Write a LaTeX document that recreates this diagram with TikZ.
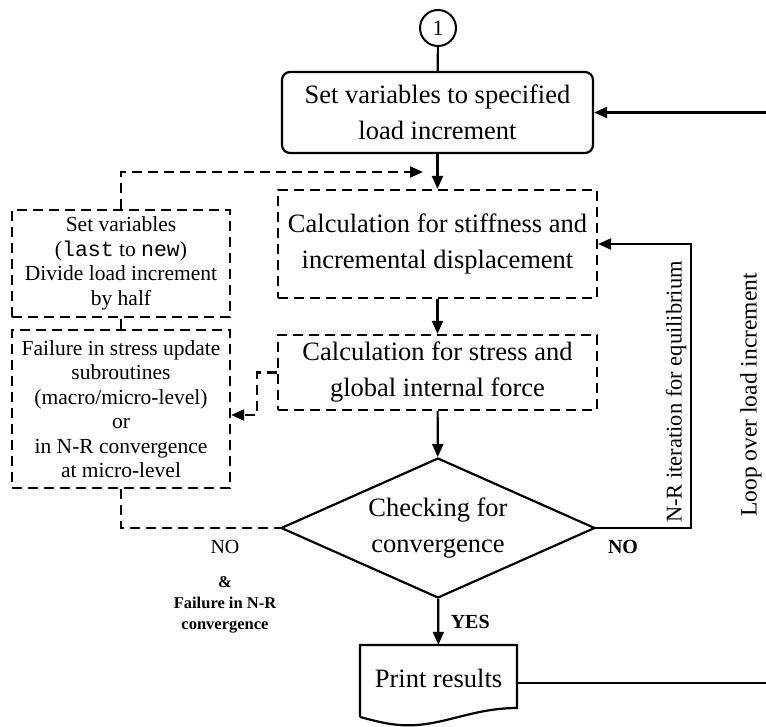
\documentclass[tikz,border=0pt]{standalone}
\usepackage{fontspec}
\setmainfont{Liberation Serif}
\setmonofont{Liberation Mono}
\usetikzlibrary{arrows.meta,shapes.geometric,calc}
\tikzset{flow/.style={-{Triangle[length=13pt,width=11pt]},line width=2.2pt}}
\tikzset{dashline/.style={line width=2.2pt,dash pattern=on 10pt off 6pt}}
\tikzset{dashflow/.style={flow,dash pattern=on 10pt off 6pt}}
\tikzset{bigbox/.style={draw,dashline,minimum width=319pt,align=center,inner sep=0pt,font=\fontsize{26.5}{36}\selectfont}}
\tikzset{sidebox/.style={draw,dashline,minimum width=218pt,align=center,inner sep=0pt,font=\fontsize{21.5}{24.5}\selectfont}}
\tikzset{tag/.style={font=\fontsize{20}{20}\selectfont}}
\tikzset{boldtag/.style={font=\bfseries\fontsize{20}{20}\selectfont}}

\begin{document}
\begin{tikzpicture}[x=1pt,y=-1pt]
    \useasboundingbox (0,0) rectangle (766,726);
    \node [draw,circle,line width=2pt,minimum size=36pt,inner sep=0pt,font=\fontsize{22}{22}\selectfont] (start) at (438,28) {1};
    \node [draw,rounded corners=8pt,line width=2.2pt,minimum width=311pt,minimum height=81pt,align=center,inner sep=0pt,font=\fontsize{26.5}{36}\selectfont] (setinc) at (437.5,112.5) {Set variables to specified\\load increment};
    \node [bigbox,minimum height=108pt] (stiff) at (437.5,244) {Calculation for stiffness and\\incremental displacement};
    \node [bigbox,minimum height=75pt] (stress) at (437.5,372.5) {Calculation for stress and\\global internal force};
    \node [draw,diamond,aspect=2.24,line width=2.2pt,minimum width=314pt,minimum height=140pt,inner sep=0pt,align=center,font=\fontsize{26.5}{36}\selectfont] (check) at (438,528) {Checking for\\convergence};
    \node [minimum width=157pt,minimum height=66pt,inner sep=0pt,font=\fontsize{26.5}{36}\selectfont] (print) at (438.5,678) {Print results};
    \draw [line width=2.2pt] (360,717) -- (360,645) -- (517,645) -- (517,708) .. controls (470,708) and (440,728) .. (400,725) .. controls (385,724) and (372,720) .. (360,717);
    % left side: recovery after failure
    \node [sidebox,minimum height=107pt] (halve) at (121,263.5) {Set variables\\(\texttt{last} to \texttt{new})\\Divide load increment\\by half};
    \node [sidebox,minimum height=158pt] (fail) at (121,409) {Failure in stress update\\subroutines\\(macro/micro-level)\\or\\in N-R convergence\\at micro-level};
    % main column
    \draw [line width=2.2pt] (start) -- (setinc);
    \draw [flow] (setinc) -- (stiff);
    \draw [flow] (stiff) -- (stress);
    \draw [flow] (stress) -- (check);
    \draw [flow] (check) -- node [boldtag,right=8pt] {YES} (print);
    % N-R loop
    \draw [flow] (check.east) -- ++(95,0) |- (stiff.east);
    \node [boldtag] (nrno) at (623,547) {NO};
    \node [rotate=90,font=\fontsize{22.5}{22.5}\selectfont] (nrtag) at (676,392) {N-R iteration for equilibrium};
    % load increment loop
    \coordinate (loopin) at (766,112.5);
    \coordinate (loopout) at (766,683);
    \draw [flow] (loopin) -- (setinc.east);
    \draw [line width=2.2pt] (print.east |- loopout) -- (loopout);
    \node [rotate=90,font=\fontsize{23.5}{23.5}\selectfont] (looptag) at (751,395) {Loop over load increment};
    % failure branch
    \coordinate (backin) at (423,172);
    \draw [dashline] (fail.south) |- (check.west);
    \draw [dashline] (fail) -- (halve);
    \draw [dashflow] (halve.north) |- (backin);
    \draw [dashflow] (stress.west) -- ++(-20,0) |- ([yshift=-6pt]fail.east);
    \node [tag] (failno) at (225,547) {NO};
    \node [align=center,font=\bfseries\fontsize{16.5}{21}\selectfont] (failtag) at (225,605) {\&\\Failure in N-R\\convergence};
\end{tikzpicture}
\end{document}
